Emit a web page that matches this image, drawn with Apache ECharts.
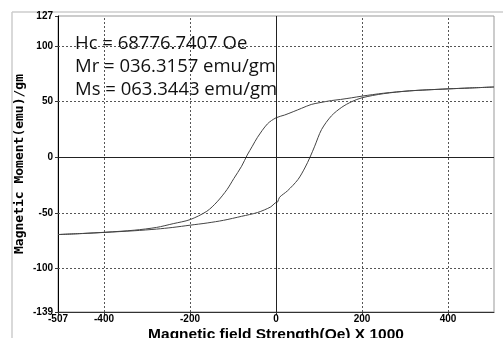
<!DOCTYPE html>
<html>
<head>
<meta charset="utf-8">
<script src="https://cdn.jsdelivr.net/npm/echarts@6/dist/echarts.min.js"></script>
<style>
  html, body { margin: 0; padding: 0; background: #fff; }
  #chart { width: 503px; height: 338px; }
</style>
</head>
<body>
<div id="chart"></div>
<script>
// descending branch (+507 -> -507)
var upperX = [507, 450, 400, 350, 310, 250, 200, 176, 150, 129, 100, 82, 59, 40, 20, 0, -20, -43, -55, -67, -80, -98, -114, -137, -161, -200, -239, -278, -330, -396, -450, -507];
var upperY = [63.2, 62.3, 61.5, 60.6, 59.7, 57.6, 55, 53.5, 52, 51, 49, 47.5, 44, 41, 38, 35.5, 30, 18, 10, 2, -8, -19, -29, -40, -48.5, -56, -59.6, -63, -65.5, -67.3, -68.4, -69.4];
// ascending branch (-507 -> +507)
var lowerX = [-507, -450, -400, -330, -278, -240, -200, -160, -122, -80, -43, -12, -2, 4, 8, 27, 51, 67, 79, 90, 106, 129, 153, 176, 200, 250, 310, 400, 450, 507];
var lowerY = [-69.4, -68.5, -67.5, -66, -64.5, -63, -61, -59, -56.6, -53, -49.6, -44.5, -41, -40, -36, -30, -20, -9.6, 0, 10, 25, 37.3, 45, 50, 53.5, 57.2, 59.7, 61.5, 62.3, 63.2];

var xTicks = [-507, -400, -200, 0, 200, 400];
var yTicks = [-139, -100, -50, 0, 50, 100, 127];
var xGrid = [-400, -200, 200, 400];
var yGrid = [-100, -50, 50, 100];

var notes = ['Hc = 68776.7407 Oe', 'Mr = 036.3157 emu/gm', 'Ms = 063.3443 emu/gm'];

function pairs(xs, ys) {
    var out = [];
    for (var i = 0; i < xs.length; i++) {
        out.push([xs[i], ys[i]]);
    };
    return out;
};

var gridLines = [];
for (var i = 0; i < xGrid.length; i++) {
    gridLines.push({ xAxis: xGrid[i] });
};
for (var i = 0; i < yGrid.length; i++) {
    gridLines.push({ yAxis: yGrid[i] });
};

var noteText = [];
for (var i = 0; i < notes.length; i++) {
    noteText.push({
        type: 'text',
        x: 75,
        y: 44 + i * 23,
        z: 10,
        style: {
            text: notes[i],
            fill: '#111',
            verticalAlign: 'middle',
            font: '18.5px "Open Sans"'
        }
    });
};

var tickFont = { color: '#000', fontSize: 10, fontWeight: 'bold', fontFamily: '"Liberation Sans", Arial' };

var chart = echarts.init(document.getElementById('chart'));
chart.setOption({
    animation: false,
    grid: {
        left: 58, right: 9, top: 16, bottom: 26,
        outerBoundsMode: 'none',
        show: true, borderColor: '#999', borderWidth: 1
    },
    graphic: [
        { type: 'line', shape: { x1: 12, y1: 12, x2: 503, y2: 12 }, style: { stroke: '#ccc', lineWidth: 1.5 } },
        { type: 'line', shape: { x1: 12, y1: 12, x2: 12, y2: 338 }, style: { stroke: '#ccc', lineWidth: 1.5 } }
    ].concat(noteText),
    xAxis: {
        type: 'value',
        min: -507, max: 507,
        name: 'Magnetic field Strength(Oe) X 1000',
        nameLocation: 'middle',
        nameGap: 15,
        nameMoveOverlap: false,
        nameTextStyle: { color: '#000', fontSize: 15.5, fontWeight: 'bold', fontFamily: '"Liberation Sans", Arial' },
        axisLine: { onZero: false, lineStyle: { color: '#333', width: 1 } },
        axisTick: { show: true, length: 3, customValues: xTicks, lineStyle: { color: '#333' } },
        axisLabel: Object.assign({ margin: 2, customValues: xTicks }, tickFont),
        splitLine: { show: false }
    },
    yAxis: {
        type: 'value',
        min: -139, max: 127,
        name: 'Magnetic Moment(emu)/gm',
        nameLocation: 'middle',
        nameGap: 32,
        nameMoveOverlap: false,
        nameRotate: 90,
        nameTextStyle: { color: '#000', fontSize: 13, fontWeight: 'bold', fontFamily: '"DejaVu Sans Mono", monospace' },
        axisLine: { onZero: false, lineStyle: { color: '#000', width: 1 } },
        axisTick: { show: true, length: 3, customValues: yTicks, lineStyle: { color: '#333' } },
        axisLabel: Object.assign({ margin: 5, customValues: yTicks }, tickFont),
        splitLine: { show: false }
    },
    series: [{
        type: 'line',
        data: [],
        markLine: {
            silent: true,
            symbol: 'none',
            label: { show: false },
            lineStyle: { color: '#555', type: [2, 2], width: 1 },
            data: gridLines
        }
    }, {
        type: 'line',
        data: [],
        markLine: {
            silent: true,
            symbol: 'none',
            label: { show: false },
            lineStyle: { color: '#222', type: 'solid', width: 1 },
            data: [{ xAxis: 0 }, { yAxis: 0 }]
        }
    }, {
        type: 'line',
        data: pairs(upperX, upperY),
        showSymbol: false,
        smooth: 0.3,
        lineStyle: { color: '#444', width: 1 }
    }, {
        type: 'line',
        data: pairs(lowerX, lowerY),
        showSymbol: false,
        smooth: 0.3,
        lineStyle: { color: '#444', width: 1 }
    }]
});
</script>
</body>
</html>
